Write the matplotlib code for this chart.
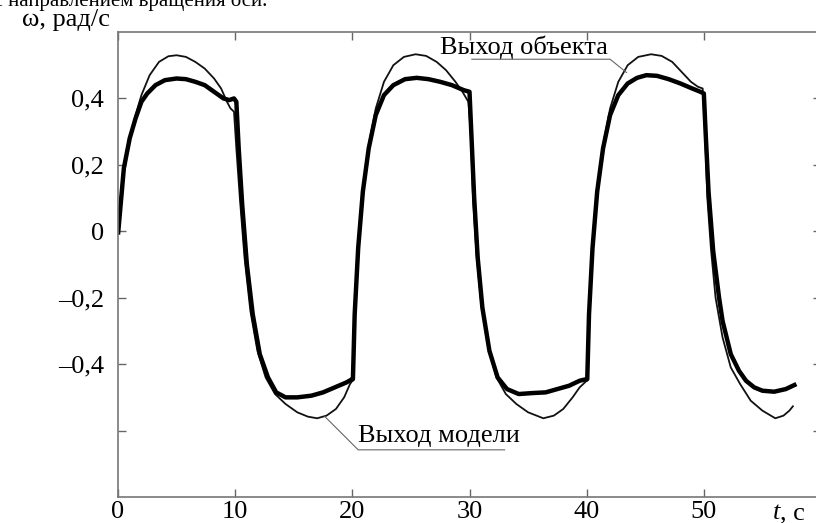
import matplotlib.pyplot as plt
from matplotlib.ticker import FixedLocator

plt.rcParams['font.family'] = ['Liberation Serif', 'DejaVu Serif']

# thin curve (larger swing)
t_obj = [0, 0.2, 0.5, 1.0, 1.5, 2.0, 2.7, 3.5, 4.3, 5.0, 5.8, 6.6, 7.4, 8.2, 8.8, 9.3, 9.6, 9.9,
         10.1, 10.4, 10.8, 11.3, 11.9, 12.6, 13.4, 14.3, 15.3, 16.2, 17.0, 17.8, 18.6, 19.3, 19.8, 20.0,
         20.05, 20.2, 20.5, 20.9, 21.4, 22.0, 22.7, 23.5, 24.4, 25.4, 26.3, 27.2, 28.0, 28.8, 29.4, 29.9,
         30.1, 30.3, 30.6, 31.0, 31.6, 32.3, 33.1, 34.0, 35.0, 36.3, 37.2, 38.0, 38.8, 39.4, 40.0,
         40.05, 40.2, 40.5, 40.9, 41.4, 42.0, 42.7, 43.5, 44.4, 45.5, 46.4, 47.3, 48.1, 48.9, 49.5, 49.9,
         50.1, 50.3, 50.6, 51.0, 51.6, 52.3, 53.1, 54.0, 55.0, 56.1, 56.8, 57.3, 57.6]
w_obj = [0.0, 0.07, 0.19, 0.28, 0.35, 0.41, 0.47, 0.51, 0.527, 0.53, 0.525, 0.51, 0.49, 0.46, 0.43, 0.39, 0.37, 0.36,
         0.25, 0.10, -0.08, -0.24, -0.36, -0.44, -0.49, -0.52, -0.545, -0.558, -0.563, -0.555, -0.535, -0.5, -0.46, -0.45,
         -0.45, -0.25, -0.05, 0.12, 0.26, 0.37, 0.45, 0.5, 0.525, 0.533, 0.528, 0.51, 0.485, 0.45, 0.42, 0.39,
         0.3, 0.1, -0.07, -0.22, -0.35, -0.44, -0.49, -0.52, -0.545, -0.563, -0.555, -0.535, -0.5, -0.47, -0.45,
         -0.45, -0.25, -0.05, 0.12, 0.26, 0.37, 0.45, 0.5, 0.525, 0.533, 0.528, 0.51, 0.48, 0.45, 0.435, 0.43,
         0.3, 0.1, -0.05, -0.2, -0.32, -0.41, -0.46, -0.51, -0.54, -0.563, -0.555, -0.54, -0.527]

# thick curve
t_mod = [0, 0.2, 0.5, 1.0, 1.5, 2.0, 2.5, 3.2, 4.0, 5.0, 5.8, 6.6, 7.4, 8.2, 9.0, 9.5, 9.9,
         10.1, 10.3, 10.6, 11.0, 11.5, 12.1, 12.8, 13.5, 14.3, 15.3, 16.5, 17.5, 18.5, 19.5, 20.0,
         20.05, 20.2, 20.5, 20.9, 21.4, 22.0, 22.7, 23.5, 24.5, 25.5, 26.5, 27.5, 28.5, 29.5, 30.0,
         30.15, 30.4, 30.7, 31.1, 31.7, 32.4, 33.2, 34.2, 35.4, 36.5, 37.5, 38.5, 39.4, 40.0,
         40.05, 40.2, 40.5, 40.9, 41.4, 42.0, 42.7, 43.5, 44.3, 45.1, 46.0, 47.0, 48.0, 49.0, 49.7, 50.0,
         50.15, 50.4, 50.8, 51.3, 51.6, 52.3, 53.0, 53.6, 54.3, 55.0, 56.0, 57.0, 57.9]
w_mod = [-0.01, 0.07, 0.19, 0.28, 0.34, 0.39, 0.415, 0.44, 0.455, 0.46, 0.458, 0.45, 0.44, 0.42, 0.40, 0.395, 0.40,
         0.39, 0.25, 0.08, -0.10, -0.25, -0.37, -0.44, -0.485, -0.50, -0.50, -0.495, -0.485, -0.47, -0.455, -0.445,
         -0.445, -0.25, -0.05, 0.12, 0.25, 0.35, 0.41, 0.44, 0.458, 0.462, 0.458, 0.45, 0.44, 0.425, 0.42,
         0.3, 0.1, -0.08, -0.23, -0.36, -0.44, -0.475, -0.49, -0.487, -0.485, -0.475, -0.465, -0.45, -0.445,
         -0.445, -0.25, -0.05, 0.12, 0.25, 0.35, 0.41, 0.445, 0.462, 0.47, 0.468, 0.458, 0.445, 0.43, 0.42, 0.415,
         0.3, 0.12, -0.06, -0.2, -0.27, -0.37, -0.42, -0.45, -0.47, -0.48, -0.483, -0.475, -0.46]

xticks = [0, 10, 20, 30, 40, 50]
xlabels = ['0', '10', '20', '30', '40', '50']
yticks = [-0.6, -0.4, -0.2, 0, 0.2, 0.4]
ylabels = ['', '\u20130,4', '\u20130,2', '0', '0,2', '0,4']

fig = plt.figure(figsize=(8.16, 5.23), dpi=100)
ax = fig.add_axes([118 / 816, 26 / 523, 703 / 816, 465 / 523])

ax.plot(t_obj, w_obj, color='#111111', lw=1.3)
ax.plot(t_mod, w_mod, color='black', lw=3.2, solid_capstyle='butt')

ax.set_xlim(0, 60)
ax.set_ylim(-0.8, 0.6)
ax.xaxis.set_major_locator(FixedLocator(xticks))
ax.set_xticklabels(xlabels)
ax.yaxis.set_major_locator(FixedLocator(yticks))
ax.set_yticklabels(ylabels)
ax.tick_params(direction='in', length=6, width=1, color='#666666', labelsize=19,
               top=True, right=True)
ax.tick_params(axis='x', pad=3)
ax.tick_params(axis='y', pad=10)
for s in ax.spines.values():
    s.set_color('#777777')
    s.set_linewidth(1.2)

# callouts
ax.text(27.5, 0.533, 'Выход объекта', fontsize=19)
ax.plot([30.2, 42.0, 43.4], [0.518, 0.518, 0.478], color='#666666', lw=0.8)
ax.text(20.5, -0.633, 'Выход модели', fontsize=19)
ax.plot([33.0, 20.5, 17.66], [-0.658, -0.658, -0.558], color='#666666', lw=0.8)

# axis captions and clipped line of page text
fig.text(22 / 816, 1 - 26 / 523, 'ω, рад/с', fontsize=19, va='baseline')
fig.text(773 / 816, 1 - 519 / 523, 't', fontsize=19, style='italic', va='baseline')
fig.text(780 / 816, 1 - 519 / 523, ', с', fontsize=19, va='baseline')
fig.text(267 / 816, 1 - 6 / 523, 'ление с направлением вращения оси.', fontsize=15,
         ha='right', va='baseline')

fig.savefig('out.png', dpi=100)
